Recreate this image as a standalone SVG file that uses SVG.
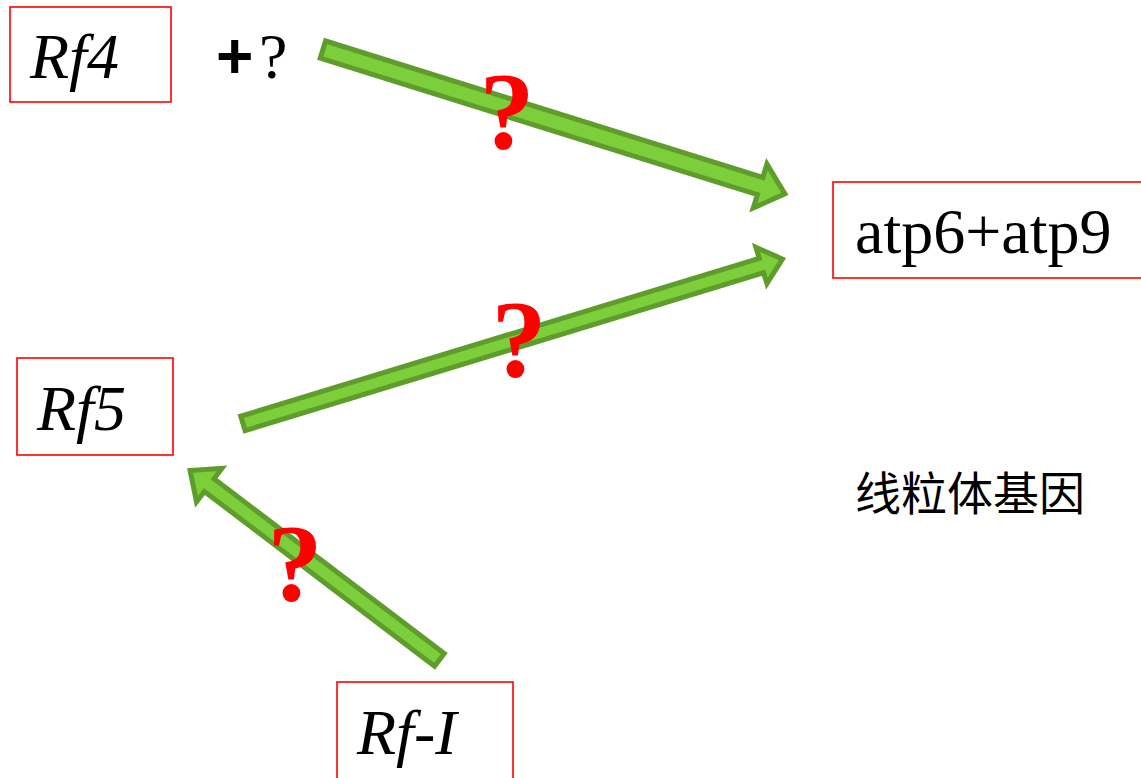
<svg xmlns="http://www.w3.org/2000/svg" width="1141" height="778" viewBox="0 0 1141 778">
<style>
.box{fill:none;stroke:#ff0000;stroke-width:1.6}
.lbl{font-family:'Liberation Serif','DejaVu Serif',serif;font-size:64px;fill:#000000}
.it{font-style:italic}
.arrow{fill:#7cce3a;stroke:#5e9c2c;stroke-width:5;stroke-linejoin:miter;stroke-miterlimit:10}
.q{font-family:'Liberation Serif','DejaVu Serif',serif;font-size:110px;font-weight:bold;fill:#ff0000;text-anchor:middle}
.plus{font-family:'Liberation Sans',sans-serif;font-weight:bold;font-size:64px;fill:#000000}
.cjk{font-family:'Noto Sans CJK SC',sans-serif;font-size:46px;fill:#000000}
</style>
<rect width="1141" height="778" fill="#ffffff"/>
<g id="connectors">
  <g transform="translate(321,49) rotate(17.34)">
    <polygon class="arrow" points="2,-9 460,-9 460,-23 486,0 460,23 460,9 2,9"/>
  </g>
  <g transform="translate(241,424) rotate(-16.94)">
    <polygon class="arrow" points="2,-7.5 544,-7.5 544,-19 566,0 544,19 544,7.5 2,7.5"/>
  </g>
  <g transform="translate(441,661) rotate(-142.8)">
    <polygon class="arrow" points="2,-8 291,-8 291,-21 315,0 291,21 291,8 2,8"/>
  </g>
  <text class="q" x="507" y="148">?</text>
  <text class="q" x="519" y="376">?</text>
  <text class="q" x="295" y="600">?</text>
</g>
<g id="node-rf4">
  <rect class="box" x="10" y="7" width="161" height="95"/>
  <text class="lbl it" x="30" y="78">Rf4</text>
</g>
<g id="plus-q">
  <text class="plus" x="216" y="78">+</text>
  <text class="lbl" x="259" y="78">?</text>
</g>
<g id="node-atp">
  <rect class="box" x="833" y="182" width="320" height="96"/>
  <text class="lbl" x="855" y="253">atp6+atp9</text>
</g>
<g id="node-rf5">
  <rect class="box" x="17" y="358" width="156" height="97"/>
  <text class="lbl it" x="37" y="430">Rf5</text>
</g>
<g id="node-rfi">
  <rect class="box" x="337" y="682" width="176" height="110"/>
  <text class="lbl it" x="357" y="754">Rf-I</text>
</g>
<g id="label-mito">
  <text class="cjk" x="855" y="510">线粒体基因</text>
</g>
</svg>
